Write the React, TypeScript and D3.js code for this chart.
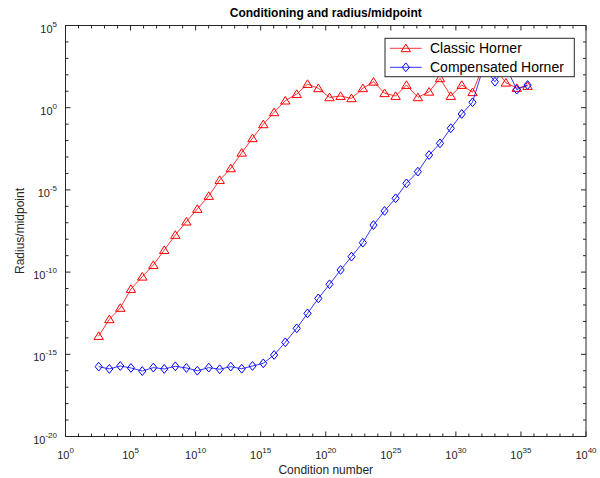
import React from "react";
import * as d3 from "d3";

// log10 of the condition number for each test polynomial
const condExp = [
  2.55, 3.37, 4.21, 5.03, 5.9, 6.75, 7.59, 8.44, 9.29, 10.13,
  11.01, 11.85, 12.7, 13.54, 14.37, 15.2, 16.03, 16.89, 17.77, 18.6,
  19.43, 20.29, 21.14, 21.98, 22.85, 23.67, 24.52, 25.37, 26.2, 27.08,
  27.94, 28.78, 29.61, 30.45, 31.28, 32.13, 33.0, 33.84, 34.68, 35.51,
];

// log10 of radius/midpoint
const classicExp = [
  -13.89, -12.87, -12.18, -11.03, -10.28, -9.57, -8.66, -7.74, -6.93, -6.16,
  -5.37, -4.4, -3.69, -2.74, -1.86, -1.01, -0.28, 0.43, 0.83, 1.44,
  1.18, 0.63, 0.71, 0.57, 1.18, 1.58, 0.88, 0.71, 1.38, 0.63,
  0.97, 1.79, 0.71, 1.38, 0.94, 2.6, 2.4, 1.52, 1.2, 1.32,
];

const compensatedExp = [
  -15.75, -15.89, -15.71, -15.83, -16.02, -15.81, -15.89, -15.73, -15.83, -16.0,
  -15.81, -15.91, -15.75, -15.88, -15.71, -15.55, -15.04, -14.27, -13.42, -12.51,
  -11.6, -10.74, -9.87, -9.06, -8.21, -7.14, -6.28, -5.51, -4.6, -3.89,
  -2.88, -2.17, -1.25, -0.38, 0.33, 2.5, 1.58, 2.5, 1.1, 1.38,
];

const xTickExps = [0, 5, 10, 15, 20, 25, 30, 35, 40];
const yTickExps = [-20, -15, -10, -5, 0, 5];

const W = 600;
const H = 478;
const left = 65.5, right = 586, top = 25.5, bottom = 436.5;
const axisCol = "#262626";
const font = "'Liberation Sans', Arial, Helvetica, sans-serif";

type Pt = { x: number; y: number };

const toPts = (ys: number[]): Pt[] =>
  condExp.map((e, i) => ({ x: Math.pow(10, e), y: Math.pow(10, ys[i]) }));

function Triangle({ cx, cy, color }: { cx: number; cy: number; color: string }) {
  const p = `M${cx},${cy - 4.2} L${cx + 4.7},${cy + 3.4} L${cx - 4.7},${cy + 3.4} Z`;
  return <path d={p} fill="none" stroke={color} strokeWidth={1} />;
}

function Diamond({ cx, cy, color }: { cx: number; cy: number; color: string }) {
  const p = `M${cx},${cy - 4.4} L${cx + 3.6},${cy} L${cx},${cy + 4.4} L${cx - 3.6},${cy} Z`;
  return <path d={p} fill="none" stroke={color} strokeWidth={1} />;
}

export default function App() {
  const x = d3.scaleLog().domain([1, 1e40]).range([left, right]);
  const y = d3.scaleLog().domain([1e-20, 1e5]).range([bottom, top]);

  const line = d3
    .line<Pt>()
    .x((d) => x(d.x))
    .y((d) => y(d.y));

  const classic = toPts(classicExp);
  const compensated = toPts(compensatedExp);

  const xMinor = d3.range(0, 41);
  const yMinor = d3.range(-20, 6);

  return (
    <svg
      width={W}
      height={H}
      style={{ position: "absolute", left: 0, top: 0, background: "#fff" }}
      fontFamily={font}
    >
      <defs>
        <clipPath id="plot">
          <rect x={left} y={top} width={right - left} height={bottom - top} />
        </clipPath>
      </defs>

      {/* series */}
      <g clipPath="url(#plot)">
        <path d={line(classic) || ""} fill="none" stroke="#ff0000" strokeWidth={0.8} />
        {classic.map((d, i) => (
          <Triangle key={i} cx={x(d.x)} cy={y(d.y)} color="#ff0000" />
        ))}
        <path d={line(compensated) || ""} fill="none" stroke="#0000ff" strokeWidth={0.8} />
        {compensated.map((d, i) => (
          <Diamond key={i} cx={x(d.x)} cy={y(d.y)} color="#0000ff" />
        ))}
      </g>

      {/* box + ticks */}
      <rect
        x={left}
        y={top}
        width={right - left}
        height={bottom - top}
        fill="none"
        stroke={axisCol}
        strokeWidth={1}
      />
      {xMinor.map((e) => {
        const px = x(Math.pow(10, e));
        const len = e % 5 === 0 ? 5 : 3;
        return (
          <g key={"xt" + e} stroke={axisCol} strokeWidth={1}>
            <line x1={px} x2={px} y1={bottom} y2={bottom - len} />
            <line x1={px} x2={px} y1={top} y2={top + len} />
          </g>
        );
      })}
      {yMinor.map((e) => {
        const py = y(Math.pow(10, e));
        const len = e % 5 === 0 ? 5 : 3;
        return (
          <g key={"yt" + e} stroke={axisCol} strokeWidth={1}>
            <line x1={left} x2={left + len} y1={py} y2={py} />
            <line x1={right} x2={right - len} y1={py} y2={py} />
          </g>
        );
      })}

      {/* tick labels */}
      {xTickExps.map((e) => (
        <text
          key={"xl" + e}
          x={x(Math.pow(10, e))}
          y={bottom + 22}
          textAnchor="middle"
          fontSize={11}
          fill={axisCol}
        >
          <tspan>10</tspan>
          <tspan dy={-6} fontSize={8}>
            {e}
          </tspan>
        </text>
      ))}
      {yTickExps.map((e) => (
        <text
          key={"yl" + e}
          x={57}
          y={y(Math.pow(10, e)) + 7}
          textAnchor="end"
          fontSize={11}
          fill={axisCol}
        >
          <tspan>10</tspan>
          <tspan dy={-6} fontSize={8}>
            {e}
          </tspan>
        </text>
      ))}

      {/* titles */}
      <text
        x={(left + right) / 2}
        y={17}
        textAnchor="middle"
        fontSize={12}
        fontWeight="bold"
        fill="#000"
      >
        Conditioning and radius/midpoint
      </text>
      <text
        x={(left + right) / 2}
        y={474}
        textAnchor="middle"
        fontSize={12}
        fill={axisCol}
      >
        Condition number
      </text>
      <text
        transform={`translate(24, ${(top + bottom) / 2}) rotate(-90)`}
        textAnchor="middle"
        fontSize={12}
        fill={axisCol}
      >
        Radius/midpoint
      </text>

      {/* legend */}
      <g>
        <rect x={385} y={38.3} width={189.3} height={38.4} fill="#fff" stroke={axisCol} strokeWidth={1} />
        <line x1={390} x2={421.7} y1={48.3} y2={48.3} stroke="#ff0000" strokeWidth={0.8} />
        <Triangle cx={405.8} cy={48.3} color="#ff0000" />
        <text x={430} y={48.3} dy="0.35em" fontSize={14} fill="#000">
          Classic Horner
        </text>
        <line x1={390} x2={421.7} y1={67.3} y2={67.3} stroke="#0000ff" strokeWidth={0.8} />
        <Diamond cx={405.8} cy={67.3} color="#0000ff" />
        <text x={430} y={67.3} dy="0.35em" fontSize={14} fill="#000">
          Compensated Horner
        </text>
      </g>
    </svg>
  );
}
